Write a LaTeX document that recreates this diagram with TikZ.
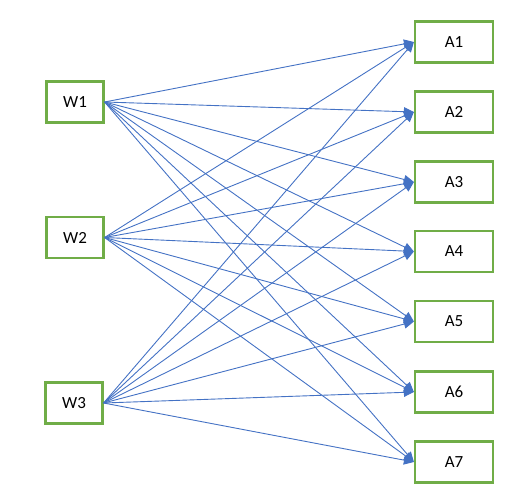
\documentclass[tikz,border=0pt]{standalone}
\usepackage{fontspec}
\setmainfont{Carlito}
\usepackage{tikz}
\usetikzlibrary{arrows.meta,positioning}
\definecolor{boxgreen}{RGB}{112,173,71}
\definecolor{linkblue}{RGB}{68,114,196}
\tikzset{
  % caselle dei nodi
  worker/.style={
    rectangle, draw=boxgreen, line width=2.2pt,
    minimum width=57pt, minimum height=41pt,
    inner sep=0pt, font=\fontsize{17}{20}\selectfont
  },
  task/.style={
    worker, minimum width=78pt
  },
  % collegamenti
  link/.style={-{Triangle[length=10pt,width=9pt]}, draw=linkblue, line width=0.9pt}
}
\begin{document}
\begin{tikzpicture}[x=1pt, y=-1pt]
\useasboundingbox (0,0) rectangle (515,504);

% Colonna sinistra
\node[worker] (W1) at (75,102) {W1};
\node[worker] (W2) at (75,237.5) {W2};
\node[worker] (W3) at (74,403) {W3};

% Colonna destra
\node[task] (A1) at (454,42) {A1};
\node[task] (A2) at (454,112) {A2};
\node[task] (A3) at (454,182) {A3};
\node[task] (A4) at (454,251.5) {A4};
\node[task] (A5) at (454,321.5) {A5};
\node[task] (A6) at (454,392) {A6};
\node[task] (A7) at (454,462) {A7};

% Tutti i collegamenti
\foreach \w in {W1,W2,W3} {
  \foreach \a in {A1,A2,A3,A4,A5,A6,A7} {
    \draw[link] (\w.east) -- (\a.west);
  }
}

\end{tikzpicture}
\end{document}
